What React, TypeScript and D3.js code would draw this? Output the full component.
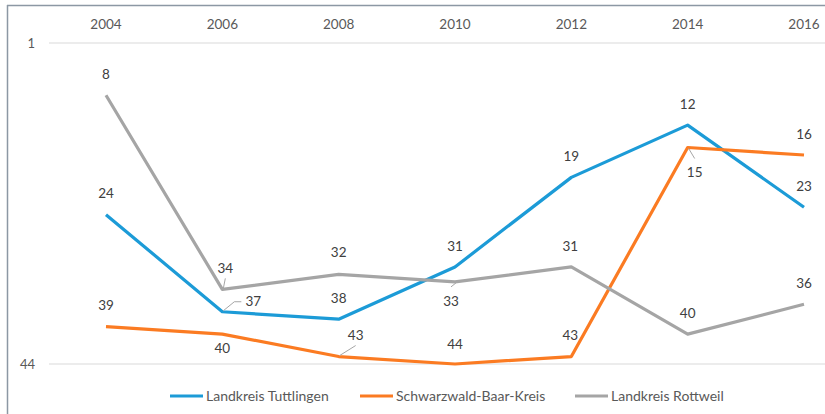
import React, { useEffect, useRef } from 'react';
import * as d3 from 'd3';

const years = ['2004', '2006', '2008', '2010', '2012', '2014', '2016'];
const tuttlingen = [24, 37, 38, 31, 19, 12, 23];
const schwarzwald = [39, 40, 43, 44, 43, 15, 16];
const rottweil = [8, 34, 32, 33, 31, 40, 36];
const seriesNames = ['Landkreis Tuttlingen', 'Schwarzwald-Baar-Kreis', 'Landkreis Rottweil'];
const rankTicks = [1, 44];

// label placement per point: [dx, dy, leader]
const labelPos = [
  [[0, -21, 0], [31, -10, 1], [0, -21, 0], [0, -21, 0], [0, -21, 0], [0, -21, 0], [0, -21, 0]],
  [[0, -21, 0], [0, 14, 0], [17, -21, 1], [0, -20, 0], [-1, -21, 0], [7, 25, 1], [0, -21, 0]],
  [[0, -21, 0], [3, -21, 1], [0, -22, 0], [-4, 19, 1], [-1, -21, 0], [0, -21, 0], [0, -21, 0]],
];

const colors = ['#1C9BD7', '#FB7B22', '#A5A5A5'];

const App = () => {
  const svgRef = useRef(null);
  const width = 825;
  const height = 414;

  useEffect(() => {
    const svg = d3.select(svgRef.current);
    svg.selectAll('*').remove();
    const font = 'Lato, "Open Sans", sans-serif';

    const x = d3.scalePoint().domain(years).range([106, 804]);
    const y = d3.scaleLinear().domain([1, 44]).range([43, 364]);

    // frame (top + left only visible)
    svg.append('line').attr('x1', 7).attr('x2', width).attr('y1', 5.5).attr('y2', 5.5)
      .attr('stroke', '#8C98A4').attr('stroke-width', 1.5);
    svg.append('line').attr('x1', 7.5).attr('x2', 7.5).attr('y1', 5).attr('y2', height)
      .attr('stroke', '#8C98A4').attr('stroke-width', 1.5);

    // gridlines
    svg.selectAll('.grid').data(rankTicks).enter().append('line')
      .attr('x1', 49).attr('x2', width)
      .attr('y1', d => y(d)).attr('y2', d => y(d))
      .attr('stroke', '#D9D9D9').attr('stroke-width', 1);

    svg.selectAll('.ytick').data(rankTicks).enter().append('text')
      .attr('x', 35).attr('y', d => y(d)).attr('dy', '0.35em')
      .attr('text-anchor', 'end')
      .style('font-family', font).style('font-size', '13px').attr('fill', '#595959')
      .text(d => d);

    svg.selectAll('.xtick').data(years).enter().append('text')
      .attr('x', d => x(d)).attr('y', 24).attr('dy', '0.35em')
      .attr('text-anchor', 'middle')
      .style('font-family', font).style('font-size', '13.5px').attr('fill', '#595959')
      .text(d => d);

    const all = [tuttlingen, schwarzwald, rottweil];
    const line = d3.line<number>().x((d, i) => x(years[i])).y(d => y(d));

    all.forEach((vals, s) => {
      svg.append('path').attr('d', line(vals)).attr('fill', 'none')
        .attr('stroke', colors[s]).attr('stroke-width', 3.2).attr('stroke-linejoin', 'round');
    });

    all.forEach((vals, s) => {
      vals.forEach((v, i) => {
        const [dx, dy, leader] = labelPos[s][i];
        const px = x(years[i]);
        const py = y(v);
        const lx = px + dx;
        const ly = py + dy;
        if (leader) {
          let pts;
          if (dx > 20) pts = [[px + 1, py - 1], [lx - 19, ly], [lx - 12, ly]];
          else if (dy > 0) pts = [[px + 1, py + 1], [lx, ly - 14]];
          else pts = [[px + 1, py - 1], [lx, ly + 10]];
          svg.append('path').attr('d', d3.line()(pts as [number, number][]))
            .attr('fill', 'none').attr('stroke', '#A6A6A6').attr('stroke-width', 1);
        }
        svg.append('text').attr('x', lx).attr('y', ly).attr('dy', '0.35em')
          .attr('text-anchor', 'middle')
          .style('font-family', font).style('font-size', '13.5px').attr('fill', '#404040')
          .text(v);
      });
    });

    // legend
    const legendX = [170, 360, 575];
    const lg = svg.selectAll('.legend').data(seriesNames).enter().append('g')
      .attr('transform', (d, i) => `translate(${legendX[i]}, 396)`);
    lg.append('line').attr('x1', 0).attr('x2', 33).attr('y1', 0).attr('y2', 0)
      .attr('stroke', (d, i) => colors[i]).attr('stroke-width', 3.2);
    lg.append('text').attr('x', 36).attr('y', 0).attr('dy', '0.35em')
      .style('font-family', font).style('font-size', '14px').attr('fill', '#595959')
      .text(d => d);
  }, []);

  return (
    <svg width={width} height={height} ref={svgRef}
      style={{ position: 'absolute', left: 0, top: 0, background: '#fff' }}>
    </svg>
  );
};

export default App;
